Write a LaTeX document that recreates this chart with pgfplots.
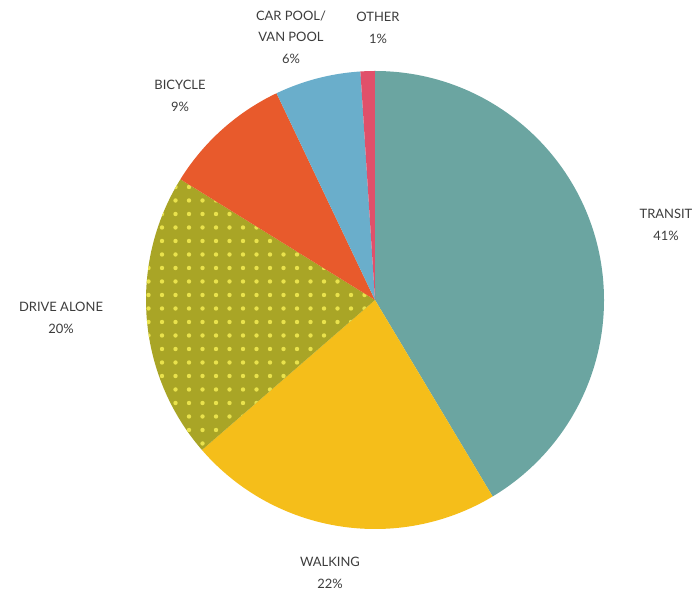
\documentclass[border=0pt]{standalone}
\usepackage{pgfplots}
\pgfplotsset{compat=1.18}
\usepackage{pgfplotstable}
\usepackage{fontspec}
\setmainfont{Lato}
\usetikzlibrary{patterns.meta}
\definecolor{ctransit}{HTML}{6BA5A1}
\definecolor{cwalking}{HTML}{F5BE1A}
\definecolor{cdrive}{HTML}{A9A526}
\definecolor{cdots}{HTML}{E9E24C}
\definecolor{cbicycle}{HTML}{E85A2C}
\definecolor{ccarpool}{HTML}{6AAECB}
\definecolor{cother}{HTML}{E0506A}
\definecolor{ctext}{HTML}{3C3C3C}
\pgfplotstableread{
label value
Transit 41
Walking 22
Drive 20
Bicycle 9
Carpool 6
Other 1
}\pietable
\begin{document}
\begin{tikzpicture}
\begin{axis}[x=1bp,y=1bp,xmin=0,xmax=696,ymin=0,ymax=592,hide axis,clip=false]
\pgfplotsextra{
  \path (axis cs:0,0) rectangle (axis cs:696,592);
  \gdef\cumangle{90}
  \foreach \i/\col in {0/ctransit,1/cwalking,2/cdrive,3/cbicycle,4/ccarpool,5/cother}{
    \pgfplotstablegetelem{\i}{value}\of\pietable
    \pgfmathsetmacro{\sweep}{\pgfplotsretval/99*360}
    \pgfmathsetmacro{\endangle}{\cumangle-\sweep}
    \fill[\col] (axis cs:375,292) -- ++(\cumangle:229bp) arc[start angle=\cumangle, end angle=\endangle, radius=229bp] -- cycle;
    \ifnum\i=2
      \fill[pattern={Dots[distance=13.5bp, radius=2.2bp]}, pattern color=cdots] (axis cs:375,292) -- ++(\cumangle:229bp) arc[start angle=\cumangle, end angle=\endangle, radius=229bp] -- cycle;
    \fi
    \xdef\cumangle{\endangle}
  }
  \begin{scope}[every node/.style={align=center,text=ctext,font=\fontsize{13}{21.5}\selectfont,inner sep=0pt}]
  \node at (axis cs:666,367) {TRANSIT\\41\%};
  \node at (axis cs:330,19) {WALKING\\22\%};
  \node at (axis cs:61,274) {DRIVE ALONE\\20\%};
  \node at (axis cs:180,496) {BICYCLE\\9\%};
  \node at (axis cs:291,555) {CAR POOL/\\VAN POOL\\6\%};
  \node at (axis cs:378,564) {OTHER\\1\%};
  \end{scope}
}
\end{axis}
\end{tikzpicture}
\end{document}
